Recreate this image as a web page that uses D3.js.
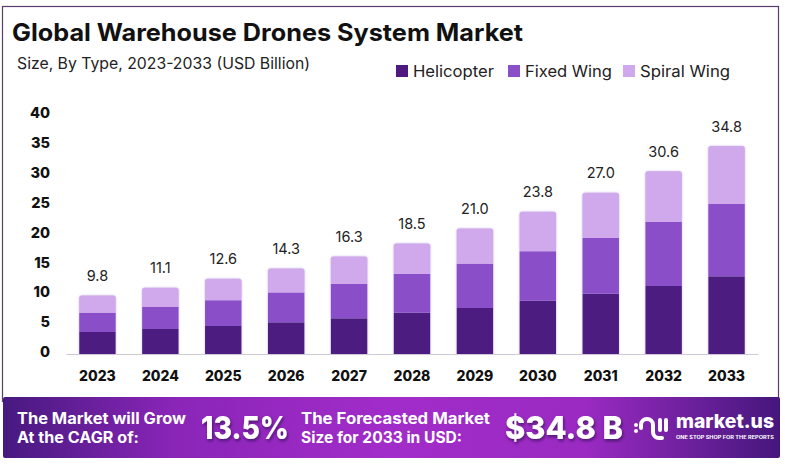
<!DOCTYPE html>
<html>
<head>
<meta charset="utf-8">
<script src="https://cdn.jsdelivr.net/npm/d3@7"></script>
<style>
  html, body { margin: 0; padding: 0; background: #fff; }
  svg { display: block; }
  text { font-family: "Inter", "Open Sans", sans-serif; }
</style>
</head>
<body>
<div id="chart"></div>
<script>
var years = ["2023","2024","2025","2026","2027","2028","2029","2030","2031","2032","2033"];
var helicopter = [3.7, 4.2, 4.7, 5.3, 6.0, 6.9, 7.7, 8.9, 10.1, 11.4, 13.0];
var fixedWing = [3.2, 3.7, 4.3, 5.0, 5.7, 6.5, 7.4, 8.3, 9.3, 10.7, 12.1];
var spiralWing = [2.9, 3.2, 3.6, 4.0, 4.6, 5.1, 5.9, 6.6, 7.6, 8.5, 9.7];
var totals = ["9.8","11.1","12.6","14.3","16.3","18.5","21.0","23.8","27.0","30.6","34.8"];
var yTicks = [0, 5, 10, 15, 20, 25, 30, 35, 40];
var seriesNames = ["Helicopter", "Fixed Wing", "Spiral Wing"];
var seriesColors = ["#4e1a80", "#8a50c8", "#d0a8ec"];

var width = 785;
var height = 465;

var svg = d3.select("#chart")
            .append("svg")
            .attr("width", width)
            .attr("height", height);

var defs = svg.append("defs");

// banner gradient
var grad = defs.append("linearGradient").attr("id", "banner");
[["0%", "#47197f"], ["22%", "#8a25b8"], ["50%", "#a22cc9"], ["75%", "#9a2ac2"], ["100%", "#45177c"]]
  .forEach(function(s) {
    grad.append("stop").attr("offset", s[0]).attr("stop-color", s[1]);
  });

var shadow = defs.append("filter").attr("id", "shadow")
                 .attr("x", "-10%").attr("y", "-20%").attr("width", "120%").attr("height", "150%");
shadow.append("feDropShadow")
      .attr("dx", 1).attr("dy", 2).attr("stdDeviation", 1.5)
      .attr("flood-color", "#2a0a4a").attr("flood-opacity", 0.7);

// soft halo around the bars
var glow = defs.append("filter").attr("id", "glow")
               .attr("x", "-15%").attr("y", "-5%").attr("width", "130%").attr("height", "110%");
glow.append("feDropShadow")
    .attr("dx", 0).attr("dy", 0).attr("stdDeviation", 1.2)
    .attr("flood-color", "#b9a0e0").attr("flood-opacity", 0.7);

// outer frame
svg.append("rect")
   .attr("x", 2.5).attr("y", 6.5).attr("width", 776).attr("height", 395)
   .attr("fill", "#fff").attr("stroke", "#5b3a6e").attr("stroke-width", 1.2);

// title and subtitle
svg.append("text").text("Global Warehouse Drones System Market")
   .attr("x", 12).attr("y", 41)
   .attr("font-size", 24).attr("font-weight", 700).attr("fill", "#111")
   .attr("textLength", 511).attr("lengthAdjust", "spacingAndGlyphs");

svg.append("text").text("Size, By Type, 2023-2033 (USD Billion)")
   .attr("x", 17).attr("y", 69)
   .attr("font-size", 15.5).attr("fill", "#222")
   .attr("textLength", 293).attr("lengthAdjust", "spacingAndGlyphs");

// legend
var legendX = d3.scaleOrdinal().domain(seriesNames).range([396, 508, 623]);
var legendLen = d3.scaleOrdinal().domain(seriesNames).range([81, 87, 90]);
var legend = svg.selectAll(".legend").data(seriesNames).enter().append("g")
   .attr("transform", function(d) { return "translate(" + legendX(d) + ",65)"; });
legend.append("rect")
   .attr("width", 12).attr("height", 12)
   .attr("fill", function(d, i) { return seriesColors[i]; });
legend.append("text").text(function(d) { return d; })
   .attr("x", 17).attr("y", 12)
   .attr("font-size", 16).attr("fill", "#222")
   .attr("textLength", function(d) { return legendLen(d); })
   .attr("lengthAdjust", "spacingAndGlyphs");

// scales
var x = d3.scaleBand().domain(years).range([66, 758]).paddingInner(0.42).paddingOuter(0.21);
var y = d3.scaleLinear().domain([0, 40]).range([354, 115]);

// stacked bars
var rows = years.map(function(yr, i) {
  return { year: yr, "Helicopter": helicopter[i], "Fixed Wing": fixedWing[i], "Spiral Wing": spiralWing[i] };
});
var stacked = d3.stack().keys(seriesNames)(rows);

var bars = svg.append("g").attr("filter", "url(#glow)");

// only the top segment has rounded corners, so every segment is a path
function barPath(d, r) {
  var x0 = x(d.data.year), w = x.bandwidth(), top = y(d[1]), bottom = y(d[0]);
  return "M" + x0 + "," + bottom + "V" + (top + r) +
         "Q" + x0 + "," + top + " " + (x0 + r) + "," + top +
         "H" + (x0 + w - r) +
         "Q" + (x0 + w) + "," + top + " " + (x0 + w) + "," + (top + r) +
         "V" + bottom + "Z";
}

bars.selectAll("g")
   .data(stacked)
   .enter()
   .append("g")
   .attr("fill", function(d, i) { return seriesColors[i]; })
   .each(function(layer, i) {
     d3.select(this).selectAll("path")
       .data(layer)
       .enter()
       .append("path")
       .attr("d", function(d) { return barPath(d, i === 2 ? 2.5 : 0); });
   });

// total labels
svg.selectAll(".total")
   .data(years)
   .enter()
   .append("text")
   .text(function(d, i) { return totals[i]; })
   .attr("x", function(d) { return x(d) + x.bandwidth() / 2; })
   .attr("y", function(d, i) { return y(+totals[i]) - 14.5; })
   .attr("text-anchor", "middle")
   .attr("font-size", 14.5).attr("fill", "#222");

// axes
var xAxis = svg.append("g").attr("transform", "translate(0,354)")
   .call(d3.axisBottom(x).tickSize(0).tickPadding(17));
xAxis.select(".domain").attr("stroke", "#cfc8d6");
xAxis.selectAll("text").attr("font-size", 14).attr("font-weight", 800).attr("fill", "#111")
     .style("font-family", "Inter");

var yAxis = svg.append("g").attr("transform", "translate(50,352)");
var yPos = d3.scaleLinear().domain([0, 40]).range([0, -239]);
yAxis.call(d3.axisLeft(yPos).tickValues(yTicks).tickSize(0).tickPadding(0));
yAxis.select(".domain").remove();
yAxis.selectAll("text").attr("font-size", 14.5).attr("font-weight", 800).attr("fill", "#111")
     .style("font-family", "Inter");

// bottom banner
svg.append("rect")
   .attr("x", 3).attr("y", 397).attr("width", 777).attr("height", 61).attr("rx", 2)
   .attr("fill", "url(#banner)");

function bannerText(str, xp, yp, size, weight, len) {
  var t = svg.append("text").text(str)
     .attr("x", xp).attr("y", yp)
     .attr("font-size", size).attr("font-weight", weight).attr("fill", "#fff");
  if (len) t.attr("textLength", len).attr("lengthAdjust", "spacingAndGlyphs");
  return t;
}

bannerText("The Market will Grow", 17, 424, 15.5, 700, 169);
bannerText("At the CAGR of:", 17, 443, 15.5, 700, 122);
bannerText("13.5%", 201, 439, 31, 800, 88).attr("filter", "url(#shadow)");
bannerText("The Forecasted Market", 301, 424, 15.5, 700, 189);
bannerText("Size for 2033 in USD:", 301, 443, 15.5, 700, 161);
bannerText("$34.8 B", 505, 439, 31, 800, 118).attr("filter", "url(#shadow)");

// market.us logo
var logo = svg.append("g").attr("fill", "none").attr("stroke", "#fff")
   .attr("stroke-width", 4).attr("stroke-linecap", "round");
logo.append("path").attr("d", "M636 425v0M636 431v0");
logo.append("path").attr("d", "M641 428v-3a6 6 0 0 1 12 0v7a6 6 0 0 0 6 6h3");
logo.append("path").attr("d", "M660 420v10M666 420v10");
bannerText("market.us", 676, 428, 19, 800, 98);
bannerText("ONE STOP SHOP FOR THE REPORTS", 676, 438.5, 4.5, 700, 98);
</script>
</body>
</html>
